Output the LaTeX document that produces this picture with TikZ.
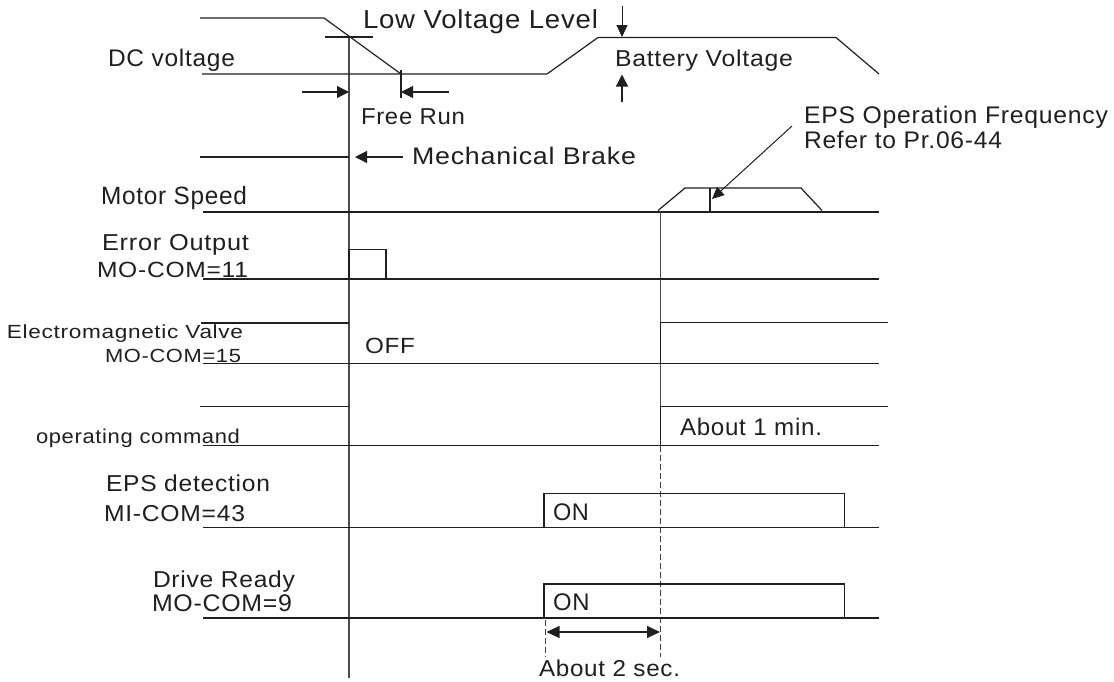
\documentclass[tikz,border=0pt]{standalone}
\usepackage{fontspec}
\setmainfont{Liberation Sans}[LetterSpace=3]
\usepackage{graphicx}
\usetikzlibrary{arrows.meta}
\newcommand{\mytxt}[3]{\resizebox{#1pt}{\height}{\fontsize{#2pt}{#2pt}\selectfont #3}}
\definecolor{ink}{gray}{0.12}
\tikzset{
  lbl/.style={inner sep=0pt,outer sep=0pt,anchor=base west,text=ink},
  wave/.style={line width=1.2pt,draw=ink},
  vline/.style={line width=1.2pt,draw=black!70},
  dashv/.style={line width=1.1pt,draw=black!75,dash pattern=on 6pt off 3pt},
  arr/.style={line width=1.2pt,draw=ink,-{Triangle[length=12pt,width=12pt]}},
  darr/.style={line width=1.2pt,draw=ink,{Triangle[length=13pt,width=12pt]}-{Triangle[length=13pt,width=12pt]}},
  thinarr/.style={line width=1pt,draw=ink,-{Triangle[length=12pt,width=11pt]}}
}
\begin{document}
\begin{tikzpicture}[x=1pt,y=-1pt]
\useasboundingbox (0,0) rectangle (1114,681);

% ---------- labels ----------
\node[lbl] (dcv) at (108,66.7) {\mytxt{127}{24}{DC voltage}};
\node[lbl] (lvl) at (363,28) {\mytxt{235}{26}{Low Voltage Level}};
\node[lbl] (bat) at (615,66) {\mytxt{178}{23}{Battery Voltage}};
\node[lbl] (fr) at (361,124) {\mytxt{104}{23}{Free Run}};
\node[lbl] (mb) at (412,164) {\mytxt{224}{24}{Mechanical Brake}};
\node[lbl] (ms) at (101,204) {\mytxt{146}{25}{Motor Speed}};
\node[lbl] (eps1) at (804,123) {\mytxt{304}{24}{EPS Operation Frequency}};
\node[lbl] (eps2) at (804,148) {\mytxt{198}{24}{Refer to Pr.06-44}};
\node[lbl] (eo1) at (102,250) {\mytxt{147}{23}{Error Output}};
\node[lbl] (eo2) at (97,277) {\mytxt{151}{22}{MO-COM=11}};
\node[lbl] (ev1) at (7,338) {\mytxt{236}{19}{Electromagnetic Valve}};
\node[lbl] (ev2) at (105,362) {\mytxt{136}{19}{MO-COM=15}};
\node[lbl] (off) at (365,353) {\mytxt{50}{22}{OFF}};
\node[lbl] (oc) at (36,443) {\mytxt{204}{20}{operating command}};
\node[lbl] (a1m) at (680,435) {\mytxt{142}{24}{About 1 min.}};
\node[lbl] (ed1) at (106,491.7) {\mytxt{164}{23}{EPS detection}};
\node[lbl] (ed2) at (104,521) {\mytxt{141}{23}{MI-COM=43}};
\node[lbl] (on1) at (553,520) {\mytxt{36}{24}{ON}};
\node[lbl] (dr1) at (153,587) {\mytxt{142}{23}{Drive Ready}};
\node[lbl] (dr2) at (152,611.5) {\mytxt{140}{24}{MO-COM=9}};
\node[lbl] (on2) at (553,610) {\mytxt{36.5}{24}{ON}};
\node[lbl] (a2s) at (539,676.7) {\mytxt{141}{23}{About 2 sec.}};

% ---------- main vertical time line ----------
\draw[vline] (349,37) -- (349,678);

% ---------- DC voltage ----------
\draw[wave] (200,18) -- (324,18) -- (401,74);
\draw[wave] (202,74) -- (547,74) -- (598,37.5) -- (836,37.5) -- (879,74);
\draw[wave] (325,37) -- (373,37);
\draw[wave] (401,70) -- (401,98);
\coordinate (frL0) at (302,92); \coordinate (frL1) at (349,92);
\coordinate (frR0) at (449,92); \coordinate (frR1) at (401,92);
\draw[arr] (frL0) -- (frL1);
\draw[arr] (frR0) -- (frR1);
\coordinate (lvA0) at (622,6); \coordinate (lvA1) at (622,37);
\coordinate (lvB0) at (622,102); \coordinate (lvB1) at (622,74.5);
\draw[thinarr] (lvA0) -- (lvA1);
\draw[arr] (lvB0) -- (lvB1);

% ---------- Mechanical brake ----------
\draw[wave] (200,157) -- (349,157);
\coordinate (mbA0) at (403,157); \coordinate (mbA1) at (355,157);
\draw[arr] (mbA0) -- (mbA1);

% ---------- Motor speed ----------
\draw[wave] (203,212) -- (879,212);
\draw[wave] (658,210.5) -- (685,188) -- (801,188) -- (822,210.5);
\draw[wave] (710,188) -- (710,211);
\coordinate (epA0) at (792,126); \coordinate (epA1) at (712,199);
\draw[thinarr] (epA0) -- (epA1);
\draw[vline] (660.5,212) -- (660.5,446);
\draw[dashv] (660.5,446) -- (660.5,657);

% ---------- Error output ----------
\draw[wave] (203,279) -- (879,279);
\draw[wave] (349,279) -- (349,249.3) -- (386,249.3) -- (386,279);

% ---------- Electromagnetic valve ----------
\draw[wave] (201,323) -- (349,323);
\draw[wave] (203,363.5) -- (879,363.5);
\draw[wave] (660.5,363.5) -- (660.5,322.3) -- (888,322.3);

% ---------- operating command ----------
\draw[wave] (200,406.5) -- (349,406.5);
\draw[wave] (203,445.8) -- (879,445.8);
\draw[wave] (660.5,445.8) -- (660.5,406.7) -- (888,406.7);

% ---------- EPS detection ----------
\draw[wave] (203,527.5) -- (879,527.5);
\draw[wave] (544,527.5) -- (544,493.3) -- (844.3,493.3) -- (844.3,527.5);

% ---------- Drive ready ----------
\draw[wave] (203,618) -- (879,618);
\draw[wave] (544,618) -- (544,584) -- (844.3,584) -- (844.3,618);

% ---------- About 2 sec ----------
\draw[dashv] (545.7,620) -- (545.7,657);
\coordinate (tsL) at (546.5,632); \coordinate (tsR) at (660,632);
\draw[darr] (tsL) -- (tsR);
\end{tikzpicture}
\end{document}
